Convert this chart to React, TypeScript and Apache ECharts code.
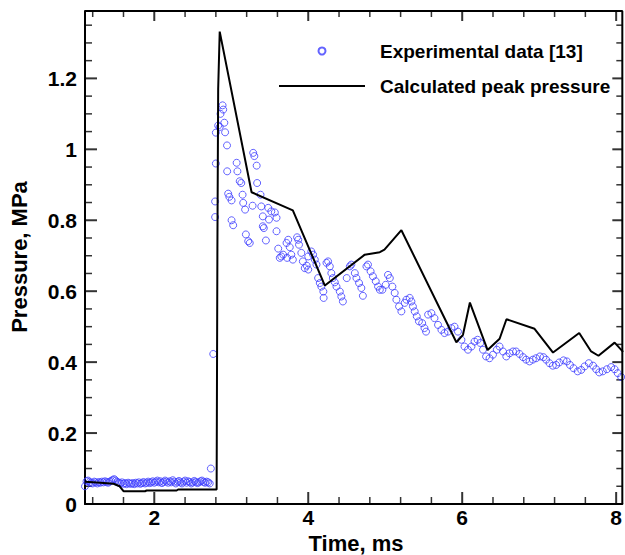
import React, { useEffect, useRef } from "react";
import * as echarts from "echarts";

// ---- Experimental data [13] (time in ms, pressure in MPa) ----
const expTime: number[] = [
  1.10, 1.12, 1.14, 1.16, 1.18, 1.20, 1.22, 1.24, 1.26, 1.28, 1.30, 1.32, 1.34, 1.36, 1.38, 1.40,
  1.42, 1.44, 1.46, 1.48, 1.50, 1.52, 1.54, 1.56, 1.58, 1.60, 1.62, 1.64, 1.66, 1.68, 1.70, 1.72,
  1.74, 1.76, 1.78, 1.80, 1.82, 1.84, 1.86, 1.88, 1.90, 1.92, 1.94, 1.96, 1.98, 2.00, 2.02, 2.04,
  2.06, 2.08, 2.10, 2.12, 2.14, 2.16, 2.18, 2.20, 2.22, 2.24, 2.26, 2.28, 2.30, 2.32, 2.34, 2.36,
  2.38, 2.40, 2.42, 2.44, 2.46, 2.48, 2.50, 2.52, 2.54, 2.56, 2.58, 2.60, 2.62, 2.64, 2.66, 2.68,
  2.70, 2.72, 2.735, 2.766,
  2.79, 2.79, 2.80, 2.80, 2.83, 2.85, 2.86, 2.887, 2.895, 2.91, 2.92, 2.945, 2.947, 2.96, 2.975,
  3.004, 3.004, 3.025, 3.07, 3.08, 3.11, 3.13, 3.147, 3.155, 3.18, 3.19, 3.22, 3.24, 3.277, 3.285,
  3.30, 3.33, 3.336, 3.38, 3.39, 3.41, 3.41, 3.423, 3.45, 3.48, 3.49, 3.52, 3.566, 3.588, 3.588,
  3.61, 3.63, 3.65, 3.674, 3.718, 3.726, 3.74, 3.76, 3.78, 3.80, 3.855, 3.87, 3.88, 3.91, 3.93,
  3.955, 3.98, 4.00, 4.00, 4.04, 4.063, 4.085, 4.107, 4.128, 4.15, 4.17, 4.196, 4.20, 4.237, 4.258,
  4.28, 4.30, 4.32, 4.345, 4.367, 4.41, 4.43, 4.45, 4.50, 4.54, 4.56, 4.605, 4.626, 4.66, 4.69,
  4.71, 4.756, 4.776, 4.81, 4.84, 4.877, 4.907, 4.93, 4.963, 5.006, 5.036, 5.06, 5.093, 5.123, 5.145,
  5.18, 5.21, 5.253, 5.275, 5.318, 5.34, 5.36, 5.383, 5.41, 5.438, 5.48, 5.51, 5.53, 5.557, 5.60,
  5.64, 5.686, 5.73, 5.77, 5.815, 5.86, 5.90, 5.945, 5.99, 6.03, 6.075, 6.12, 6.16, 6.20, 6.235,
  6.27, 6.31, 6.355, 6.40, 6.45, 6.485, 6.53, 6.573, 6.615, 6.66, 6.70, 6.745, 6.79, 6.83, 6.875,
  6.918, 6.96, 7.01, 7.056, 7.09, 7.134, 7.177, 7.22, 7.26, 7.316, 7.36, 7.40, 7.446, 7.50, 7.546,
  7.59, 7.645, 7.70, 7.74, 7.78, 7.826, 7.88, 7.935, 7.98, 8.02, 8.065,
];
const expPressure: number[] = [
  0.050, 0.064, 0.066, 0.062, 0.060, 0.058, 0.063, 0.061, 0.058, 0.062, 0.060, 0.063, 0.061, 0.064, 0.062, 0.060,
  0.063, 0.065, 0.068, 0.070, 0.066, 0.062, 0.060, 0.058, 0.061, 0.057, 0.059, 0.056, 0.060, 0.058, 0.057, 0.059,
  0.056, 0.060, 0.058, 0.061, 0.057, 0.059, 0.062, 0.058, 0.060, 0.063, 0.059, 0.061, 0.064, 0.060, 0.063, 0.066,
  0.061, 0.064, 0.059, 0.062, 0.066, 0.063, 0.060, 0.064, 0.061, 0.067, 0.063, 0.058, 0.062, 0.065, 0.061, 0.058,
  0.063, 0.066, 0.060, 0.064, 0.062, 0.058, 0.061, 0.065, 0.062, 0.059, 0.061, 0.064, 0.066, 0.062, 0.060, 0.063,
  0.061, 0.058, 0.100, 0.423,
  0.809, 0.853, 0.960, 1.047, 1.067, 1.063, 1.100, 1.124, 1.112, 1.075, 1.048, 1.011, 0.938, 0.875, 0.866,
  0.856, 0.800, 0.786, 0.962, 0.938, 0.910, 0.905, 0.872, 0.849, 0.830, 0.760, 0.741, 0.736, 0.841, 0.990,
  0.981, 0.954, 0.905, 0.872, 0.839, 0.811, 0.783, 0.778, 0.743, 0.835, 0.802, 0.825, 0.822, 0.807, 0.769,
  0.720, 0.694, 0.698, 0.703, 0.736, 0.694, 0.745, 0.724, 0.703, 0.689, 0.752, 0.745, 0.731, 0.708, 0.684,
  0.665, 0.672, 0.698, 0.661, 0.712, 0.703, 0.689, 0.675, 0.637, 0.623, 0.613, 0.599, 0.581, 0.680, 0.684,
  0.670, 0.651, 0.637, 0.625, 0.613, 0.599, 0.585, 0.571, 0.637, 0.670, 0.675, 0.651, 0.637, 0.623, 0.609,
  0.587, 0.670, 0.675, 0.656, 0.642, 0.628, 0.613, 0.604, 0.604, 0.618, 0.646, 0.637, 0.613, 0.595, 0.576,
  0.557, 0.543, 0.567, 0.576, 0.581, 0.571, 0.557, 0.543, 0.529, 0.515, 0.510, 0.496, 0.486, 0.534, 0.538,
  0.524, 0.505, 0.491, 0.482, 0.486, 0.496, 0.500, 0.486, 0.463, 0.444, 0.435, 0.444, 0.458, 0.463, 0.454,
  0.435, 0.416, 0.411, 0.421, 0.435, 0.444, 0.430, 0.416, 0.425, 0.430, 0.430, 0.423, 0.414, 0.407, 0.402,
  0.407, 0.411, 0.416, 0.414, 0.407, 0.397, 0.390, 0.392, 0.399, 0.405, 0.402, 0.392, 0.383, 0.374, 0.378,
  0.388, 0.397, 0.390, 0.380, 0.371, 0.374, 0.380, 0.386, 0.380, 0.369, 0.358,
];

// ---- Calculated peak pressure ----
const calcTime: number[] = [
  1.10, 1.30, 1.47, 1.55, 1.60, 1.88, 1.90, 2.29, 2.31, 2.81, 2.82, 2.83, 2.85,
  3.264, 3.80, 4.216, 4.734, 4.93, 4.99, 5.21, 5.924, 6.01, 6.10, 6.33, 6.486, 6.575,
  6.94, 7.18, 7.52, 7.675, 7.77, 7.98, 8.09,
];
const calcPressure: number[] = [
  0.063, 0.060, 0.057, 0.050, 0.036, 0.036, 0.038, 0.038, 0.041, 0.041, 0.72, 1.17, 1.332,
  0.879, 0.828, 0.616, 0.703, 0.710, 0.717, 0.772, 0.456, 0.477, 0.568, 0.434, 0.466, 0.521,
  0.494, 0.427, 0.482, 0.430, 0.418, 0.455, 0.429,
];

// ---- Axes ----
const xRange = [1.1, 8.08];
const yRange = [0, 1.39];
const xMajorTicks = [2, 4, 6, 8];
const xMinorTicks = [1.2, 1.6, 2.4, 2.8, 3.2, 3.6, 4.4, 4.8, 5.2, 5.6, 6.4, 6.8, 7.2, 7.6];
const yMajorTicks = [0, 0.2, 0.4, 0.6, 0.8, 1.0, 1.2];
const yMinorTicks = [
  0.05, 0.1, 0.15, 0.25, 0.3, 0.35, 0.45, 0.5, 0.55, 0.65, 0.7, 0.75, 0.85, 0.9, 0.95,
  1.05, 1.1, 1.15, 1.25, 1.3, 1.35,
];

const seriesNames = ["Experimental data [13]", "Calculated peak pressure"];
const axisTitles = { x: "Time, ms", y: "Pressure, MPa" };

const FONT = "Liberation Sans";
const BLUE = "#3c3cff";

export default function App() {
  const ref = useRef<HTMLDivElement>(null);
  useEffect(() => {
    if (!ref.current) return;
    const chart = echarts.init(ref.current, undefined, { renderer: "svg" });

    const expData = expTime.map((t, i) => [t, expPressure[i]]);
    const calcData = calcTime.map((t, i) => [t, calcPressure[i]]);

    // Inward tick marks on all four sides, placed at axis values through the scales.
    const tickMarks: any[] = [];
    xMajorTicks.forEach((v) => {
      tickMarks.push({ value: [v, yRange[0]], symbolSize: [2, 12], symbolOffset: [0, -6] });
      tickMarks.push({ value: [v, yRange[1]], symbolSize: [2, 10], symbolOffset: [0, 5] });
    });
    xMinorTicks.forEach((v) => {
      tickMarks.push({ value: [v, yRange[0]], symbolSize: [1.5, 7], symbolOffset: [0, -3.5] });
      tickMarks.push({ value: [v, yRange[1]], symbolSize: [1.5, 6], symbolOffset: [0, 3] });
    });
    yMajorTicks.forEach((v) => {
      tickMarks.push({ value: [xRange[0], v], symbolSize: [12, 2], symbolOffset: [6, 0] });
      tickMarks.push({ value: [xRange[1], v], symbolSize: [10, 2], symbolOffset: [-5, 0] });
    });
    yMinorTicks.forEach((v) => {
      tickMarks.push({ value: [xRange[0], v], symbolSize: [7, 1.5], symbolOffset: [3.5, 0] });
      tickMarks.push({ value: [xRange[1], v], symbolSize: [6, 1.5], symbolOffset: [-3, 0] });
    });
    // Top and right edges of the frame
    const frameData = [
      [xRange[0], yRange[1]],
      [xRange[1], yRange[1]],
      [xRange[1], yRange[0]],
    ];

    const labelStyle = { fontSize: 21, fontWeight: "bold", color: "#000", fontFamily: FONT };

    chart.setOption({
      animation: false,
      grid: { left: 85, right: 2, top: 11, bottom: 51 },
      legend: {
        orient: "vertical",
        left: 279,
        top: 41,
        padding: 0,
        itemWidth: 86,
        itemHeight: 7,
        itemGap: 15,
        selectedMode: false,
        data: [
          { name: seriesNames[0] },
          { name: seriesNames[1], icon: "path://M0 0H86V2H0Z", itemStyle: { color: "#000" } },
        ],
        textStyle: {
          fontSize: 19,
          fontWeight: "bold",
          color: "#000",
          fontFamily: FONT,
          lineHeight: 20,
          padding: [0, 0, 0, 10],
        },
      },
      graphic: [
        {
          type: "text",
          x: 356,
          y: 543,
          style: {
            text: axisTitles.x,
            fontSize: 22,
            fontWeight: "bold",
            fontFamily: FONT,
            fill: "#000",
            align: "center",
            verticalAlign: "middle",
          },
        },
        {
          type: "text",
          x: 19,
          y: 257,
          rotation: Math.PI / 2,
          style: {
            text: axisTitles.y,
            fontSize: 22,
            fontWeight: "bold",
            fontFamily: FONT,
            fill: "#000",
            align: "center",
            verticalAlign: "middle",
          },
        },
      ],
      xAxis: {
        type: "value",
        min: xRange[0],
        max: xRange[1],
        axisLine: { show: true, onZero: false, lineStyle: { color: "#000", width: 2 } },
        axisTick: { show: false },
        axisLabel: { show: true, customValues: xMajorTicks, margin: 3, ...labelStyle },
        splitLine: { show: false },
      },
      yAxis: {
        type: "value",
        min: yRange[0],
        max: yRange[1],
        axisLine: { show: true, onZero: false, lineStyle: { color: "#000", width: 2 } },
        axisTick: { show: false },
        axisLabel: { show: true, customValues: yMajorTicks, margin: 8, ...labelStyle },
        splitLine: { show: false },
      },
      series: [
        {
          name: "ticks",
          type: "scatter",
          symbol: "rect",
          clip: false,
          silent: true,
          itemStyle: { color: "#000", borderWidth: 0 },
          data: tickMarks,
        },
        {
          name: "frame",
          type: "line",
          symbol: "none",
          showSymbol: false,
          clip: false,
          silent: true,
          lineStyle: { color: "#000", width: 2 },
          itemStyle: { color: "#000" },
          data: frameData,
        },
        {
          name: seriesNames[0],
          type: "scatter",
          symbol: "circle",
          symbolSize: 7,
          itemStyle: { color: "rgba(0,0,0,0)", borderColor: BLUE, borderWidth: 1 },
          data: expData,
        },
        {
          name: seriesNames[1],
          type: "line",
          symbol: "none",
          showSymbol: false,
          lineStyle: { color: "#000", width: 2 },
          itemStyle: { color: "#000" },
          data: calcData,
        },
      ],
    });
    return () => chart.dispose();
  }, []);
  return (
    <div
      ref={ref}
      style={{ position: "fixed", left: 0, top: 0, width: 625, height: 555, background: "#fff" }}
    />
  );
}
